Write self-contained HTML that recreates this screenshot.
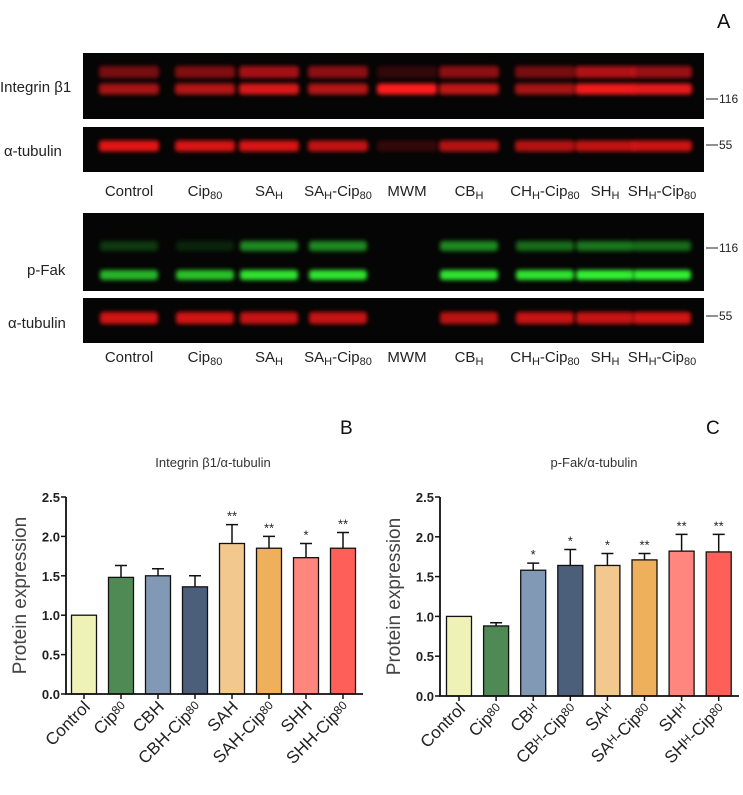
<!DOCTYPE html>
<html><head><meta charset="utf-8"><style>
body{margin:0;background:#fff;}
svg{display:block;font-family:"Liberation Sans","DejaVu Sans",sans-serif;}
</style></head><body>
<svg id="fig" width="743" height="795" viewBox="0 0 743 795" xmlns="http://www.w3.org/2000/svg">
<defs>
<filter id="bl" x="-20%" y="-100%" width="140%" height="300%"><feGaussianBlur stdDeviation="2 2.2"/></filter>
</defs>
<text x="717" y="28" font-size="20" fill="#111">A</text>
<g id="blots"></g>
<g id="chartB"></g>
<g id="chartC"></g>
</svg>
<script>
const NS="http://www.w3.org/2000/svg";
// ---- blot data ----
const laneNames=["Control","Cip80","SAH","SAH-Cip80","MWM","CBH","CHH-Cip80","SHH","SHH-Cip80"];
const laneCenters=[129,205,269,338,407,469,545,605,662];
const integrinUpper=[0.5,0.55,0.7,0.6,0.2,0.6,0.5,0.75,0.65];
const integrinLower=[0.65,0.7,0.85,0.7,1.0,0.75,0.65,0.95,0.9];
const tub1=[0.95,0.9,0.9,0.8,0.2,0.75,0.75,0.8,0.85];
const fakUpper=[0.25,0.15,0.65,0.65,0,0.65,0.5,0.55,0.5];
const fakLower=[0.75,0.8,0.95,0.95,0,0.95,0.95,1.0,1.0];
const tub2=[0.9,0.9,0.85,0.85,0,0.8,0.85,0.85,0.9];
// ---- chart data ----
const categoriesB=["Control","Cip80","CBH","CBH-Cip80","SAH","SAH-Cip80","SHH","SHH-Cip80"];
const valuesB=[1.0,1.48,1.50,1.36,1.91,1.85,1.73,1.85];
const errorsB=[0,0.15,0.09,0.14,0.24,0.15,0.18,0.20];
const starsB=["","","","","**","**","*","**"];
const categoriesC=["Control","Cip80","CBH","CBH-Cip80","SAH","SAH-Cip80","SHH","SHH-Cip80"];
const valuesC=[1.0,0.88,1.58,1.64,1.64,1.71,1.82,1.81];
const errorsC=[0,0.04,0.09,0.20,0.15,0.08,0.21,0.22];
const starsC=["","","*","*","*","**","**","**"];
const yTicks=[0,0.5,1.0,1.5,2.0,2.5];
const tickLabels=["0.0","0.5","1.0","1.5","2.0","2.5"];
const barColors=["#eef2b6","#4f8a55","#8299b5","#4b5f7b","#f2c88e","#eeb05b","#ff857f","#ff5f59"];

function el(tag,attrs,parent,txt){const e=document.createElementNS(NS,tag);for(const k in attrs)e.setAttribute(k,attrs[k]);if(txt!==undefined)e.textContent=txt;parent.appendChild(e);return e;}

// ---- blots ----
const B=document.getElementById('blots');
function blot(y,h,name){const r=el('rect',{x:83,y:y,width:621,height:h,fill:'#050505'},B);}
blot(53,66,'integrin-blot');blot(127,45,'tubulin-blot-1');blot(213,78,'pfak-blot');blot(298,45,'tubulin-blot-2');
function bands(arr,y,col,name,w,h){arr.forEach((v,i)=>{if(v<=0)return;const b=el('rect',{x:laneCenters[i]-w/2,y:y-h/2,width:w,height:h,rx:3,fill:col,opacity:v,filter:'url(#bl)'},B);});}
bands(integrinUpper,72,'#e8161b','integrin-upper-band',60,12);
bands(integrinLower,89,'#ff1a1a','integrin-lower-band',60,11);
bands(tub1,146,'#f01515','tubulin-band',60,11);
bands(fakUpper,246,'#2bd02e','pfak-upper-band',58,10);
bands(fakLower,275,'#30f033','pfak-lower-band',58,10);
bands(tub2,318,'#e81414','tubulin-band-2',58,12);
function lab(x,y,t,name,anchor){const g=el('text',{x:x,y:y,'font-size':15,fill:'#222','text-anchor':anchor||'start'},B);return g;}
function rich(t,x,y,name){const g=lab(x,y,'',name,'middle');
 if(t==="Cip80"){el('tspan',{},g,'Cip');el('tspan',{'font-size':11,dy:3},g,'80');return;}
 if(t==="Control"||t==="MWM"){g.textContent=t;return;}
 const parts=t.split('-');const base=parts[0];el('tspan',{},g,base.slice(0,-1));el('tspan',{'font-size':11,dy:3},g,'H');
 if(parts[1]){el('tspan',{dy:-3},g,'-Cip');el('tspan',{'font-size':11,dy:3},g,'80');}}
laneNames.forEach((n,i)=>{rich(n,laneCenters[i],196,'lane-label');rich(n,laneCenters[i],362,'lane-label-2');});
lab(0,92,'','protein-label').textContent='Integrin β1';
lab(4,156,'','protein-label').textContent='α-tubulin';
lab(27,275,'','protein-label').textContent='p-Fak';
lab(8,328,'','protein-label').textContent='α-tubulin';
[[99,'116'],[145,'55'],[248,'116'],[316,'55']].forEach(m=>{const l=el('line',{x1:706,x2:718,y1:m[0],y2:m[0],stroke:'#222','stroke-width':1},B);const t=lab(719,m[0]+4,'','mw-label');t.setAttribute('font-size',12);t.textContent=m[1];});

// ---- charts ----
function chart(gid,o,cats,vals,errs,stars,title,letter){
 const G=document.getElementById(gid);
 const y=v=>o.y0-(v/2.5)*(o.y0-o.y25);
 const x=i=>o.c0+i*o.step;
 const t=el('text',{x:o.titleX,y:467,'font-size':13,fill:'#333','text-anchor':'middle'},G,title);
 const L=el('text',{x:o.letterX,y:434,'font-size':19,fill:'#111'},G,letter);
 const yt=el('text',{x:0,y:0,'font-size':19,fill:'#444','text-anchor':'middle',transform:`translate(${o.ax-40},${(o.y0+o.y25)/2}) rotate(-90)`},G,'Protein expression');
 vals.forEach((v,i)=>{
  const r=el('rect',{x:x(i)-12.5,y:y(v),width:25,height:y(0)-y(v),fill:barColors[i],stroke:'#111','stroke-width':1.3},G);
  
  if(errs[i]>0){const e=el('path',{d:`M${x(i)} ${y(v)}V${y(v+errs[i])}M${x(i)-6} ${y(v+errs[i])}H${x(i)+6}`,stroke:'#111','stroke-width':1.5,fill:'none'},G);}
  if(stars[i]){const s=el('text',{x:x(i),y:y(v+errs[i])-4,'font-size':13,fill:'#222','text-anchor':'middle'},G,stars[i]);}
  const tk=el('line',{x1:x(i),x2:x(i),y1:y(0),y2:y(0)+5,stroke:'#111','stroke-width':1.5},G);
  const xl=el('text',{x:0,y:0,'font-size':17,fill:'#222','text-anchor':'end',transform:`translate(${x(i)+7},${y(0)+14}) rotate(-45)`},G);
  
  const c=cats[i];
  if(c==="Control"){xl.textContent=c;}
  else{const parts=c.split('-');
   if(parts[0]==="Cip80"){el('tspan',{},xl,'Cip');el('tspan',{'font-size':12,dy:-3},xl,'80');}
   else{el('tspan',{},xl,parts[0].slice(0,-1));el('tspan',{'font-size':o.hSize,dy:o.hDy},xl,'H');
    if(parts[1]){el('tspan',{dy:-o.hDy},xl,'-Cip');el('tspan',{'font-size':12,dy:-3},xl,'80');}}}
 });
 const ax=el('path',{d:`M${o.ax} ${y(2.5)}V${y(0)}H${o.axEnd}`,stroke:'#111','stroke-width':1.8,fill:'none'},G);
 yTicks.forEach((v,i)=>{const l=el('line',{x1:o.ax-5,x2:o.ax,y1:y(v),y2:y(v),stroke:'#111','stroke-width':1.5},G);
  const tl=el('text',{x:o.ax-6,y:y(v)+5,'font-size':13,'font-weight':'bold',fill:'#222','text-anchor':'end'},G,tickLabels[i]);});
}
chart('chartB',{ax:66,axEnd:363,y0:694,y25:497,c0:84,step:37,titleX:213,letterX:340,hSize:17,hDy:0},categoriesB,valuesB,errorsB,starsB,'Integrin β1/α-tubulin','B');
chart('chartC',{ax:440,axEnd:739,y0:696,y25:497,c0:459,step:37.1,titleX:594,letterX:706,hSize:12,hDy:-3},categoriesC,valuesC,errorsC,starsC,'p-Fak/α-tubulin','C');
</script>
</body></html>
